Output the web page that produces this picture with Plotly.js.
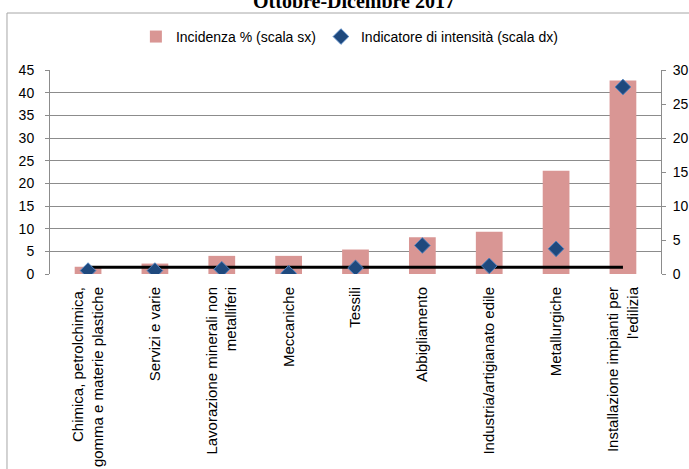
<!DOCTYPE html>
<html>
<head>
<meta charset="utf-8">
<script src="https://cdn.plot.ly/plotly-3.0.1.min.js"></script>
<style>html,body{margin:0;padding:0;background:#fff;}#chart{width:689px;height:469px;}</style>
</head>
<body>
<div id="chart"></div>
<script>
var categories = [
  "Chimica, petrolchimica,<br>gomma e materie plastiche",
  "Servizi e varie",
  "Lavorazione minerali non<br>metalliferi",
  "Meccaniche",
  "Tessili",
  "Abbigliamento",
  "Industria/artigianato edile",
  "Metallurgiche",
  "Installazione impianti per<br>l'edilizia"
];
var incidenza = [1.6, 2.3, 4.0, 4.0, 5.4, 8.1, 9.3, 22.8, 42.7];
var intensita = [0.5, 0.5, 0.7, 0.1, 0.9, 4.2, 1.2, 3.7, 27.5];
var riferimento = [1, 1, 1, 1, 1, 1, 1, 1, 1];
var leftTicks = [0, 5, 10, 15, 20, 25, 30, 35, 40, 45];
var rightTicks = [0, 5, 10, 15, 20, 25, 30];

var FONT = "Liberation Sans, Arial, sans-serif";
var GRID = "#8c8c8c";

var traces = [
  {
    type: "bar", x: categories, y: incidenza, name: "Incidenza % (scala sx)",
    marker: {color: "#d99694"}, yaxis: "y", hoverinfo: "y"
  },
  {
    type: "scatter", mode: "lines", x: categories, y: riferimento, yaxis: "y2",
    line: {color: "#000000", width: 3}, showlegend: false, hoverinfo: "skip"
  },
  {
    type: "scatter", mode: "markers", x: categories, y: intensita, yaxis: "y2",
    name: "Indicatore di intensità (scala dx)",
    marker: {symbol: "diamond", size: 12, color: "#1f497d", line: {color: "#4f81bd", width: 1}}
  }
];

var layout = {
  width: 689, height: 469,
  margin: {l: 50, r: 28, t: 70, b: 195},
  paper_bgcolor: "#ffffff", plot_bgcolor: "#ffffff",
  font: {family: FONT, size: 14, color: "#000000"},
  bargap: 0.6,
  showlegend: true,
  legend: {
    orientation: "h", x: 0.49, xanchor: "center", y: 1.162, yanchor: "middle",
    font: {family: FONT, size: 14, color: "#000000"}, traceorder: "normal"
  },
  xaxis: {
    type: "category", tickangle: -90, showgrid: false, zeroline: false,
    showline: false, ticks: "", tickfont: {family: FONT, size: 15}, fixedrange: true,
    ticklabelstandoff: 9
  },
  yaxis: {
    range: [0, 45], tickvals: leftTicks, ticktext: leftTicks.map(String),
    showgrid: true, gridcolor: GRID, gridwidth: 1, zeroline: false,
    showline: true, linecolor: GRID, linewidth: 1,
    ticks: "outside", ticklen: 4, tickcolor: GRID, ticklabelstandoff: 8,
    tickfont: {family: FONT, size: 14}
  },
  yaxis2: {
    range: [0, 30], overlaying: "y", side: "right",
    tickvals: rightTicks, ticktext: rightTicks.map(String),
    showgrid: false, zeroline: false,
    showline: true, linecolor: GRID, linewidth: 1,
    ticks: "outside", ticklen: 4, tickcolor: GRID, ticklabelstandoff: 4,
    tickfont: {family: FONT, size: 14}
  },
  annotations: [{
    text: "<b>Ottobre-Dicembre 2017</b>", xref: "paper", yref: "paper",
    x: 0.497, xanchor: "center", y: 1.274, yanchor: "bottom", showarrow: false,
    font: {family: "Liberation Serif, Times New Roman, serif", size: 20, color: "#000000"}
  }],
  shapes: [
    {type: "line", xref: "paper", yref: "paper", x0: -0.0704, x1: 1.1, y0: 1.2794, y1: 1.2794,
     line: {color: "#a6a6a6", width: 1}},
    {type: "line", xref: "paper", yref: "paper", x0: -0.0704, x1: -0.0704, y0: 1.2794, y1: -1.0,
     line: {color: "#a6a6a6", width: 1}}
  ]
};

Plotly.newPlot("chart", traces, layout, {displayModeBar: false, staticPlot: true});
</script>
</body>
</html>
